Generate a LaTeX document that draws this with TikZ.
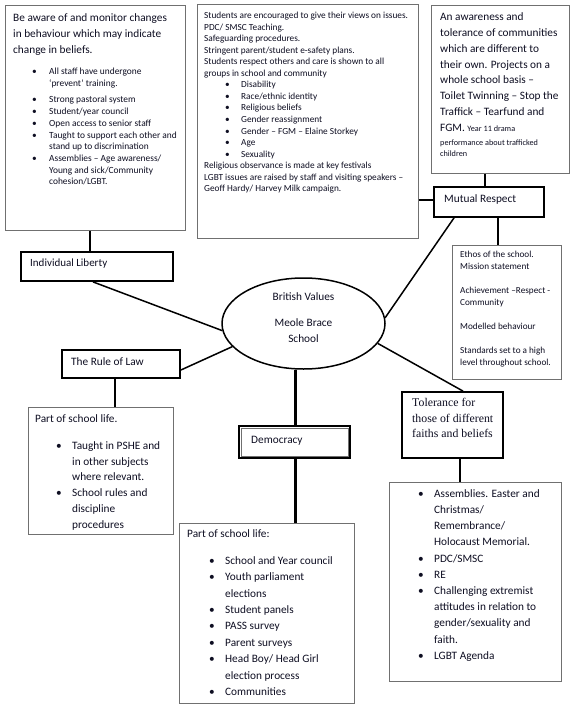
\documentclass[tikz,border=0pt]{standalone}
\usepackage{fontspec}
\setmainfont{Carlito}
\newfontfamily\serifT{Liberation Serif}
\usetikzlibrary{shapes.geometric}
\definecolor{txt}{HTML}{0E0E22}
\definecolor{bordergray}{HTML}{707070}
\newcommand{\fs}[2]{\fontsize{#1}{#2}\selectfont}
\newcommand{\bu}[1]{\makebox[#1][l]{\textbullet}}
\newcommand{\ind}[1]{\hspace*{#1}}
\begin{document}
\begin{tikzpicture}[x=1pt,y=-1pt,
  gbox/.style={draw=bordergray, line width=1pt, fill=white, rectangle, inner sep=0pt},
  kbox/.style={draw=black, line width=1.8pt, fill=white, rectangle, inner sep=0pt},
  tx/.style={inner sep=0pt, anchor=north west, align=left, text=txt},
  lab/.style={inner sep=0pt, anchor=west, text=txt, font=\fs{11.3}{14}},
  vconn/.style={draw=black, line width=2.5pt},
  dconn/.style={draw=black, line width=1.5pt}]
\useasboundingbox (0,0) rectangle (575,709);
\fill[white] (0,0) rectangle (575,709);

% coordinates for connector positions
\coordinate (c90) at (90,0);
\coordinate (c93) at (93,0);
\coordinate (c115) at (115,0);
\coordinate (c454) at (454,0);
\coordinate (c463) at (463,0);
\coordinate (c460) at (460,0);
\coordinate (c485) at (485,0);
\coordinate (c498) at (498,0);
\coordinate (y200) at (0,200);
\coordinate (y370) at (0,370);

% boxes
\node[gbox, minimum width=180pt, minimum height=224pt] (b1) at (95,118) {};
\node[gbox, minimum width=221pt, minimum height=233pt] (b2) at (307.5,121.5) {};
\node[gbox, minimum width=138pt, minimum height=167pt] (b3) at (500,89.5) {};
\node[kbox, minimum width=110pt, minimum height=30pt] (mr) at (489,202) {};
\node[gbox, minimum width=109pt, minimum height=134pt] (eth) at (506.5,312) {};
\node[kbox, minimum width=152pt, minimum height=29pt] (il) at (97,266.5) {};
\node[kbox, minimum width=118pt, minimum height=28pt] (rl) at (121,364) {};
\node[gbox, minimum width=145pt, minimum height=127pt] (rll) at (100.5,470.5) {};
\node[kbox, minimum width=111pt, minimum height=32pt] (dem) at (294.5,442) {};
\draw[bordergray, line width=0.6pt] ([shift={(3pt,3pt)}]dem.south west) rectangle ([shift={(-3pt,-3pt)}]dem.north east);
\node[gbox, minimum width=175pt, minimum height=180pt] (deml) at (266.5,613) {};
\node[kbox, minimum width=101pt, minimum height=66pt] (tol) at (452.5,425) {};
\node[gbox, minimum width=172pt, minimum height=199pt] (tll) at (475,581.5) {};
\node[ellipse, draw=black, line width=1.5pt, fill=white, minimum width=163pt, minimum height=91pt, inner sep=0pt] (el) at (303.5,323.5) {};

% connectors
\draw[vconn] (b1.south -| c90) -- (il.north -| c90);
\draw[vconn] (b3.south -| c485) -- (mr.north -| c485);
\draw[vconn] (b2.east |- y200) -- (mr.west |- y200);
\draw[vconn] (mr.south -| c498) -- (eth.north -| c498);
\draw[dconn] (mr.south -| c454) -- (el.4.6);
\draw[dconn] (il.south -| c93) -- (el.185);
\draw[dconn] (rl.east |- y370) -- (el.198.4);
\draw[dconn] (el.345) -- (tol.north -| c463);
\draw[vconn] (el.260) -- (el.260 |- dem.north);
\draw[vconn] (dem.south -| el.260) -- (deml.north -| el.260);
\draw[vconn] (rl.south -| c115) -- (rll.north -| c115);
\draw[vconn] (tol.south -| c460) -- (tll.north -| c460);

% texts
\node[tx, font=\fs{11.3}{16}] (b1h) at (13,13.3) {Be aware of and monitor changes\\in behaviour which may indicate\\change in beliefs.};
\node[tx, font=\fs{9.4}{11.7}] (b1l) at (32,67.8) {\bu{17pt}All staff have undergone\\\ind{17pt}‘prevent’ training.\\[5pt]\bu{17pt}Strong pastoral system\\\bu{17pt}Student/year council\\\bu{17pt}Open access to senior staff\\\bu{17pt}Taught to support each other and\\\ind{17pt}stand up to discrimination\\\bu{17pt}Assemblies – Age awareness/\\\ind{17pt}Young and sick/Community\\\ind{17pt}cohesion/LGBT.};

\node[tx, font=\fs{9.3}{11.53}] (b2t) at (204,12.1) {Students are encouraged to give their views on issues.\\PDC/ SMSC Teaching.\\Safeguarding procedures.\\Stringent parent/student e-safety plans.\\Students respect others and care is shown to all\\groups in school and community\\\ind{21pt}\bu{16pt}Disability\\\ind{21pt}\bu{16pt}Race/ethnic identity\\\ind{21pt}\bu{16pt}Religious beliefs\\\ind{21pt}\bu{16pt}Gender reassignment\\\ind{21pt}\bu{16pt}Gender – FGM – Elaine Storkey\\\ind{21pt}\bu{16pt}Age\\\ind{21pt}\bu{16pt}Sexuality\\Religious observance is made at key festivals\\LGBT issues are raised by staff and visiting speakers –\\Geoff Hardy/ Harvey Milk campaign.};

\node[tx, font=\fs{11.3}{15.9}] (b3t) at (440,12.3) {An awareness and\\tolerance of communities\\which are different to\\their own. Projects on a\\whole school basis –\\Toilet Twinning – Stop the\\Traffick – Tearfund and\\FGM. {\fs{8.2}{11}Year 11 drama}};
\node[tx, font=\fs{8.2}{11}] (b3s) at (440,139.6) {performance about trafficked\\children};

\node[lab] (mrt) at (444,199) {Mutual Respect};
\node[tx, font=\fs{9.2}{12}] (etht) at (460,251.1) {Ethos of the school.\\Mission statement\\\mbox{}\\Achievement –Respect -\\Community\\\mbox{}\\Modelled behaviour\\\mbox{}\\Standards set to a high\\level throughout school.};

\node[lab, font=\fs{11}{14}] (ilt) at (30,264) {Individual Liberty};
\node[lab] (rlt) at (71,362) {The Rule of Law};
\node[lab] (demt) at (251,441) {Democracy};

\node[inner sep=0pt, anchor=north, align=center, text=txt, font=\fs{11.3}{16}] (elt) at (303.5,292.3) {British Values\\[10pt]Meole Brace\\School};

\node[lab] (rllh) at (35,419) {Part of school life.};
\node[tx, font=\fs{11.3}{15.8}] (rllt) at (56,441.3) {\bu{16pt}Taught in PSHE and\\\ind{16pt}in other subjects\\\ind{16pt}where relevant.\\\bu{16pt}School rules and\\\ind{16pt}discipline\\\ind{16pt}procedures};

\node[lab] (demh) at (187,534) {Part of school life:};
\node[tx, font=\fs{11.3}{16.4}] (demlt) at (209,556.3) {\bu{16pt}School and Year council\\\bu{16pt}Youth parliament\\\ind{16pt}elections\\\bu{16pt}Student panels\\\bu{16pt}PASS survey\\\bu{16pt}Parent surveys\\\bu{16pt}Head Boy/ Head Girl\\\ind{16pt}election process\\\bu{16pt}Communities};

\node[tx, font=\serifT\fs{11.8}{15.5}] (tolt) at (412,398) {Tolerance for\\those of different\\faiths and beliefs};
\node[tx, font=\fs{11.3}{16.2}] (tllt) at (418,489.3) {\bu{16pt}Assemblies. Easter and\\\ind{16pt}Christmas/\\\ind{16pt}Remembrance/\\\ind{16pt}Holocaust Memorial.\\\bu{16pt}PDC/SMSC\\\bu{16pt}RE\\\bu{16pt}Challenging extremist\\\ind{16pt}attitudes in relation to\\\ind{16pt}gender/sexuality and\\\ind{16pt}faith.\\\bu{16pt}LGBT Agenda};
\end{tikzpicture}
\end{document}
